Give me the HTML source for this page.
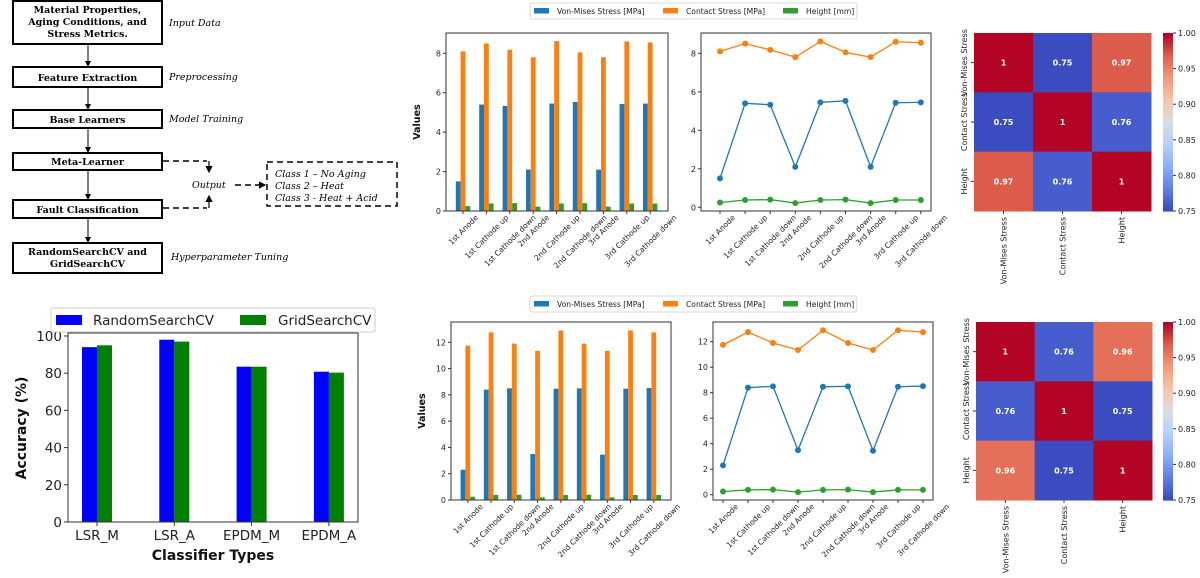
<!DOCTYPE html>
<html><head><meta charset="utf-8">
<style>
body{margin:0;background:#fff;width:1200px;height:578px;overflow:hidden;}
svg{position:absolute;left:0;top:0;font-family:"DejaVu Sans","Liberation Sans",sans-serif;}
</style></head>
<body>
<svg id="s" width="1200" height="578" viewBox="0 0 1200 578">
<defs><marker id="ah" markerWidth="6" markerHeight="6" refX="5" refY="3" orient="auto"><path d="M0,0 L6,3 L0,6z" fill="#000"/></marker></defs>
<g id="flow" font-family="DejaVu Serif, Liberation Serif, serif" font-size="9.5">
 <rect x="13" y="1" width="149" height="43" fill="#fff" stroke="#000" stroke-width="2"/>
 <text x="87.5" y="13" text-anchor="middle" font-weight="bold"><tspan x="87.5">Material Properties,</tspan><tspan x="87.5" dy="12">Aging Conditions, and</tspan><tspan x="87.5" dy="12">Stress Metrics.</tspan></text>
 <rect x="13" y="67" width="149" height="20" fill="#fff" stroke="#000" stroke-width="2"/>
 <text x="87.5" y="81" text-anchor="middle" font-weight="bold">Feature Extraction</text>
 <rect x="13" y="110" width="149" height="18" fill="#fff" stroke="#000" stroke-width="2"/>
 <text x="87.5" y="123" text-anchor="middle" font-weight="bold">Base Learners</text>
 <rect x="13" y="153" width="149" height="17" fill="#fff" stroke="#000" stroke-width="2"/>
 <text x="87.5" y="165" text-anchor="middle" font-weight="bold">Meta-Learner</text>
 <rect x="13" y="200" width="149" height="18" fill="#fff" stroke="#000" stroke-width="2"/>
 <text x="87.5" y="213" text-anchor="middle" font-weight="bold">Fault Classification</text>
 <rect x="13" y="243" width="149" height="30" fill="#fff" stroke="#000" stroke-width="2"/>
 <text x="87.5" y="255" text-anchor="middle" font-weight="bold"><tspan x="87.5">RandomSearchCV and</tspan><tspan x="87.5" dy="12">GridSearchCV</tspan></text>
 <g stroke="#000" stroke-width="1" marker-end="url(#ah)">
  <line x1="88" y1="45" x2="88" y2="66"/><line x1="88" y1="88" x2="88" y2="109"/><line x1="88" y1="129" x2="88" y2="152"/><line x1="88" y1="171" x2="88" y2="199"/><line x1="88" y1="219" x2="88" y2="242"/>
 </g>
 <g stroke="#000" stroke-width="1.5" stroke-dasharray="6,4" fill="none">
  <path d="M163,161 H207"/><path d="M163,208 H207"/><path d="M235,185 H262"/>
  <rect x="267" y="162" width="130" height="44"/>
 </g>
 <g stroke="#000" stroke-width="1.2"><line x1="209" y1="161" x2="209" y2="172" marker-end="url(#ah)"/><line x1="209" y1="208" x2="209" y2="196" marker-end="url(#ah)"/><line x1="260" y1="185" x2="265" y2="185" marker-end="url(#ah)"/></g>
 <g font-style="italic">
  <text x="169" y="26">Input Data</text>
  <text x="169" y="80">Preprocessing</text>
  <text x="169" y="122">Model Training</text>
  <text x="192" y="188">Output</text>
  <text x="171" y="260">Hyperparameter Tuning</text>
  <text x="275" y="177">Class 1 – No Aging</text>
  <text x="275" y="189">Class 2 – Heat</text>
  <text x="275" y="201">Class 3 -  Heat + Acid</text>
 </g>
</g>
</svg>
<script>
const cats=["1st Anode","1st Cathode up","1st Cathode down","2nd Anode","2nd Cathode up","2nd Cathode down","3rd Anode","3rd Cathode up","3rd Cathode down"];
const vmTop=[1.5,5.4,5.33,2.1,5.45,5.53,2.1,5.43,5.45];
const csTop=[8.1,8.5,8.18,7.8,8.62,8.05,7.8,8.6,8.55];
const hTop=[0.25,0.38,0.4,0.22,0.38,0.4,0.22,0.38,0.38];
const vmBot=[2.3,8.4,8.5,3.5,8.47,8.5,3.45,8.47,8.52];
const csBot=[11.75,12.75,11.9,11.35,12.9,11.9,11.35,12.9,12.75];
const hBot=[0.25,0.38,0.4,0.2,0.38,0.4,0.2,0.38,0.38];
const ticksTop=[0,2,4,6,8];
const ticksBot=[0,2,4,6,8,10,12];
const corrLabels=["Von-Mises Stress","Contact Stress","Height"];
const corrTop=[[1,0.75,0.97],[0.75,1,0.76],[0.97,0.76,1]];
const corrBot=[[1,0.76,0.96],[0.76,1,0.75],[0.96,0.75,1]];
const cbTicks=[0.75,0.80,0.85,0.90,0.95,1.00];
const accCats=["LSR_M","LSR_A","EPDM_M","EPDM_A"];
const accRandom=[94,98,83.5,80.8];
const accGrid=[95,97,83.5,80.3];
const accTicks=[0,20,40,60,80,100];

const S=document.getElementById('s');const NS='http://www.w3.org/2000/svg';
function el(t,a,p){const e=document.createElementNS(NS,t);for(const k in a)e.setAttribute(k,a[k]);(p||S).appendChild(e);return e;}
function txt(s,a,p){const e=el('text',a,p);e.textContent=s;return e;}
const C=['#1f77b4','#ff7f0e','#2ca02c'];

function legend(x,y,w,h,fs){
  const g=el('g',{});
  
  
  el('rect',{x:x,y:y,width:w,height:h,fill:'#fff',stroke:'#ccc','stroke-width':0.8,rx:2},g);
  const names=['Von-Mises Stress [MPa]','Contact Stress [MPa]','Height [mm]'];const offs=[4,133,253];
  names.forEach((n,i)=>{const r=el('rect',{x:x+offs[i],y:y+h/2-3,width:15,height:5.5,fill:C[i]},g);
    
    const t=txt(n,{x:x+offs[i]+23,y:y+h/2+3,'font-size':fs,fill:'#222'},g);
    });
}
function rotLabels(xs,yb,g){
  cats.forEach((c,i)=>{const t=txt(c,{'font-size':7.6,'text-anchor':'middle',fill:'#222'},g);
    
    const L=t.getComputedTextLength();const d=L*0.707/2;
    t.setAttribute('transform',`translate(${xs(i)},${yb+5+d}) rotate(-45) translate(0,3)`);});
}
function yAxis(ticks,ys,x0,g){
  ticks.forEach(v=>{el('line',{x1:x0-3,x2:x0,y1:ys(v),y2:ys(v),stroke:'#333'},g);
    const t=txt(String(v),{x:x0-5,y:ys(v)+3,'text-anchor':'end','font-size':8,fill:'#222'},g);
    });
}
function barChart(L,R,T,B,y0px,yref,vref,x0c,dx,ticks,vm,cs,h,name){
  const g=el('g',{});
  const ys=v=>y0px-(y0px-yref)*v/vref;const xs=i=>x0c+i*dx;const bw=4.8;
  [vm,cs,h].forEach((arr,s)=>arr.forEach((v,i)=>{const x=xs(i)+(s-1.5)*bw;
    const r=el('rect',{x:x,y:ys(v),width:bw,height:ys(0)-ys(v),fill:C[s]},g);
    }));
  el('rect',{x:L,y:T,width:R-L,height:B-T,fill:'none',stroke:'#333','stroke-width':1},g);
  yAxis(ticks,ys,L,g);
  cats.forEach((c,i)=>el('line',{x1:xs(i),x2:xs(i),y1:B,y2:B+3,stroke:'#333'},g));
  rotLabels(xs,B,g);
  const yl=txt('Values',{'font-size':9.5,'font-weight':'bold',transform:`translate(${L-26},${(T+B)/2}) rotate(-90)`,'text-anchor':'middle',fill:'#111'},g);
  
}
function lineChart(L,R,T,B,y0px,yref,vref,x0,dx,ticks,vm,cs,h,name){
  const g=el('g',{});
  const ys=v=>y0px-(y0px-yref)*v/vref;const xs=i=>x0+i*dx;
  [vm,cs,h].forEach((arr,s)=>{
    const p=el('polyline',{points:arr.map((v,i)=>xs(i)+','+ys(v)).join(' '),fill:'none',stroke:C[s],'stroke-width':1.3},g);
    
    arr.forEach((v,i)=>{const c=el('circle',{cx:xs(i),cy:ys(v),r:3,fill:C[s]},g);
      });});
  el('rect',{x:L,y:T,width:R-L,height:B-T,fill:'none',stroke:'#333'},g);
  yAxis(ticks,ys,L,g);
  cats.forEach((c,i)=>el('line',{x1:xs(i),x2:xs(i),y1:B,y2:B+3,stroke:'#333'},g));
  rotLabels(xs,B,g);
}
function cw(t){const st=[[59,76,192],[98,130,234],[141,176,254],[184,208,249],[221,221,221],[245,196,173],[244,154,123],[222,96,77],[180,4,38]];
  t=Math.max(0,Math.min(1,t))*8;const i=Math.min(7,Math.floor(t));const f=t-i;
  return 'rgb('+st[i].map((c,k)=>Math.round(c+(st[i+1][k]-c)*f)).join(',')+')';}
function heat(L,R,T,B,cbL,M,name){
  const g=el('g',{});
  const cw_=(R-L)/3,ch=(B-T)/3;
  M.forEach((row,r)=>row.forEach((v,c)=>{const t=(v-0.75)/0.25;
    const cell=el('rect',{x:L+c*cw_,y:T+r*ch,width:cw_+0.5,height:ch+0.5,fill:cw(t)},g);
    
    const a=txt(String(v),{x:L+(c+.5)*cw_,y:T+(r+.5)*ch+3,'text-anchor':'middle','font-size':8,'font-weight':'bold',fill:'#fff'},g);
    }));
  corrLabels.forEach((n,i)=>{
    const a=txt(n,{'font-size':8,'text-anchor':'middle',fill:'#222',transform:`translate(${L-7},${T+(i+.5)*ch}) rotate(-90)`},g);
    
    el('line',{x1:L-3,x2:L,y1:T+(i+.5)*ch,y2:T+(i+.5)*ch,stroke:'#333'},g);
    el('line',{x1:L+(i+.5)*cw_,x2:L+(i+.5)*cw_,y1:B,y2:B+3,stroke:'#333'},g);
    const b=txt(n,{'font-size':8,'text-anchor':'end',fill:'#222',transform:`translate(${L+(i+.5)*cw_+3},${B+6}) rotate(-90)`},g);
    });
  const n=60;for(let k=0;k<n;k++){el('rect',{x:cbL,y:T+(B-T)*k/n,width:10,height:(B-T)/n+0.6,fill:cw(1-k/(n-1))},g);}
  cbTicks.forEach(v=>{const y=B-(B-T)*(v-0.75)/0.25;el('line',{x1:cbL+10,x2:cbL+13,y1:y,y2:y,stroke:'#333'},g);
    const t=txt(v.toFixed(2),{x:cbL+15,y:y+3,'font-size':8,fill:'#222'},g);
    });
}
legend(530,3,327,16,7.6);
barChart(446,668,33,211,211,53.3,8,463,23.4,ticksTop,vmTop,csTop,hTop,'bar-chart-top');
lineChart(701,931,33,211,207.3,53.3,8,720,25.1,ticksTop,vmTop,csTop,hTop,'line-chart-top');
heat(974,1151,33,211,1163,corrTop,'heatmap-top');
legend(530,296,327,16,7.6);
barChart(451,671,322,500,500,342.3,12,467.8,23.25,ticksBot,vmBot,csBot,hBot,'bar-chart-bottom');
lineChart(713,933,322,500,494.7,341.7,12,723,25,ticksBot,vmBot,csBot,hBot,'line-chart-bottom');
heat(976,1152,322,500,1163,corrBot,'heatmap-bottom');

// accuracy chart
(function(){
  const g=el('g',{});
  const L=68,R=358,T=333,B=522;const ys=v=>B-(B-336)*v/100;const xs=i=>97+i*77.3;const bw=15;
  accRandom.forEach((v,i)=>{const r=el('rect',{x:xs(i)-bw,y:ys(v),width:bw,height:B-ys(v),fill:'#0000ff'},g);
    });
  accGrid.forEach((v,i)=>{const r=el('rect',{x:xs(i),y:ys(v),width:bw,height:B-ys(v),fill:'#008000'},g);
    });
  el('rect',{x:L,y:T,width:R-L,height:B-T,fill:'none',stroke:'#333'},g);
  accTicks.forEach(v=>{el('line',{x1:L-4,x2:L,y1:ys(v),y2:ys(v),stroke:'#333'},g);
    const t=txt(String(v),{x:L-6,y:ys(v)+5,'text-anchor':'end','font-size':13.5,fill:'#222'},g);
    });
  accCats.forEach((c,i)=>{el('line',{x1:xs(i),x2:xs(i),y1:B,y2:B+4,stroke:'#333'},g);
    const t=txt(c,{x:xs(i),y:B+18,'text-anchor':'middle','font-size':13.5,fill:'#222'},g);
    });
  const xl=txt('Classifier Types',{x:213,y:560,'text-anchor':'middle','font-size':14,'font-weight':'bold',fill:'#111'},g);
  
  const yl=txt('Accuracy (%)',{'text-anchor':'middle','font-size':14,'font-weight':'bold',fill:'#111',transform:'translate(26,428) rotate(-90)'},g);
  
  const lg=el('g',{},g);
  el('rect',{x:51,y:308,width:324,height:24,fill:'#fff',stroke:'#ccc',rx:2},lg);
  el('rect',{x:56,y:315,width:26,height:10,fill:'#0000ff'},lg);
  const a=txt('RandomSearchCV',{x:93,y:325,'font-size':13.5,fill:'#222'},lg);
  
  el('rect',{x:240,y:315,width:26,height:10,fill:'#008000'},lg);
  const b=txt('GridSearchCV',{x:278,y:325,'font-size':13.5,fill:'#222'},lg);
  
})();
</script>
</body></html>
